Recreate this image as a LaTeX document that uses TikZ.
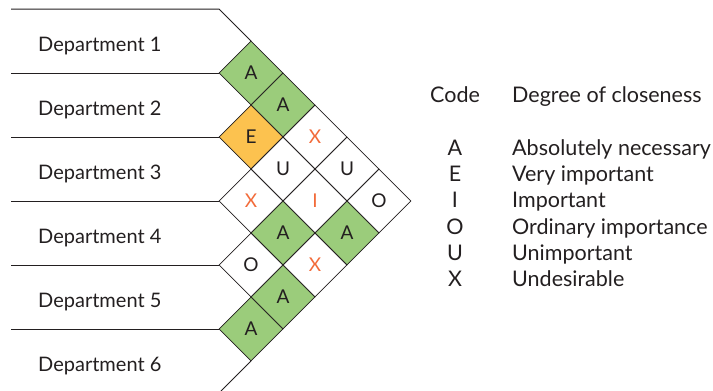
\documentclass[tikz,border=0pt]{standalone}
\usepackage{fontspec}
\setmainfont{Lato}
\usetikzlibrary{shapes.geometric}
\definecolor{cellgreen}{HTML}{9BCC7B}
\definecolor{cellorange}{HTML}{FCC24F}
\definecolor{codered}{HTML}{F26B3A}
\definecolor{inkc}{HTML}{231F20}

\tikzset{
  cell/.style={shape=diamond, draw=inkc, line width=0.8pt, minimum width=64pt,
    minimum height=64pt, inner sep=0pt, text=inkc, font=\fontsize{19}{22}\selectfont},
  agood/.style={cell, fill=cellgreen},
  egood/.style={cell, fill=cellorange},
  xbad/.style={cell, text=codered},
  dept/.style={anchor=base west, inner sep=0pt, text=inkc, font=\fontsize{20}{24}\selectfont},
  legend/.style={anchor=base, inner sep=0pt, text=inkc, font=\fontsize{21.5}{26}\selectfont},
  rowline/.style={draw=inkc, line width=1pt}
}

\begin{document}
\begin{tikzpicture}[x=1pt, y=-1pt]
  \useasboundingbox (0,0) rectangle (713,391);
  % department rows
  \draw[rowline] (11,9) -- (219,9) -- (251,41);
  \foreach \y in {73,137,201,265,329}
    \draw[rowline] (11,\y) -- (219,\y);
  \draw[rowline] (251,361) -- (221,391);
  \foreach \n in {1,...,6}
    \node[dept] (dept\n) at (38,{51+64*(\n-1)}) {Department \n};
  % relationship chart
  \node[agood] (c12) at (251,73) {A};
  \node[agood] (c13) at (283,105) {A};
  \node[egood] (c23) at (251,137) {E};
  \node[xbad] (c14) at (315,137) {X};
  \node[cell] (c24) at (283,169) {U};
  \node[cell] (c15) at (347,169) {U};
  \node[xbad] (c34) at (251,201) {X};
  \node[xbad] (c25) at (315,201) {I};
  \node[cell] (c16) at (379,201) {O};
  \node[agood] (c35) at (283,233) {A};
  \node[agood] (c26) at (347,233) {A};
  \node[cell] (c45) at (251,265) {O};
  \node[xbad] (c36) at (315,265) {X};
  \node[agood] (c46) at (283,297) {A};
  \node[agood] (c56) at (251,329) {A};
  % legend
  \node[legend, anchor=base west] (codehead) at (430,102) {Code};
  \node[legend, anchor=base west] (degreehead) at (512,102) {Degree of closeness};
  \node[legend] (codeA) at (455,155) {A};
  \node[legend] (codeE) at (455,181) {E};
  \node[legend] (codeI) at (455,207) {I};
  \node[legend] (codeO) at (455,234) {O};
  \node[legend] (codeU) at (455,260) {U};
  \node[legend] (codeX) at (455,286) {X};
  \node[legend, anchor=base west] (textA) at (512,155) {Absolutely necessary};
  \node[legend, anchor=base west] (textE) at (512,181) {Very important};
  \node[legend, anchor=base west] (textI) at (512,207) {Important};
  \node[legend, anchor=base west] (textO) at (512,234) {Ordinary importance};
  \node[legend, anchor=base west] (textU) at (512,260) {Unimportant};
  \node[legend, anchor=base west] (textX) at (512,286) {Undesirable};
\end{tikzpicture}
\end{document}
